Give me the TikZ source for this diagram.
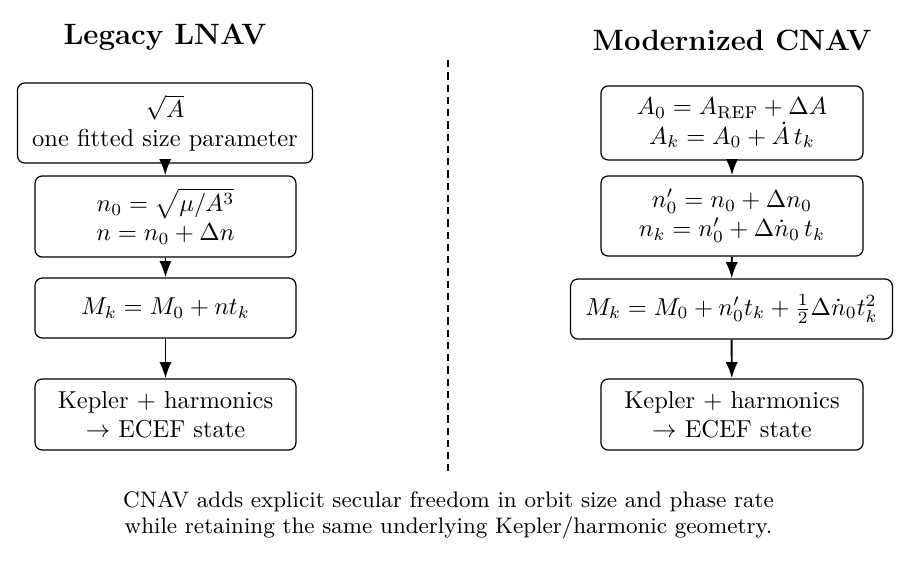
\documentclass[tikz,border=0pt]{standalone}
\usepackage{amsmath}
\usetikzlibrary{arrows.meta}
\begin{document}
\begin{tikzpicture}[x=0.40816pt,y=-0.40816pt,
  stagebox/.style={draw,line width=0.5pt,rounded corners=3pt,align=center,inner xsep=6pt,inner ysep=3pt,minimum width=106.5pt},
  flow/.style={-{Latex},thick},
  coltitle/.style={font=\large\bfseries}]
\useasboundingbox (0,0) rectangle (912,568);
\node[coltitle] (tl) at (165,37) {Legacy LNAV};
\node[coltitle] (tr) at (732,40) {Modernized CNAV};
% left
\node[stagebox,minimum width=120pt,minimum height=32.7pt] (l1) at (165,123) {$\sqrt{A}$\\one fitted size parameter};
\node[stagebox,minimum height=33.1pt] (l2) at (165.5,216.5) {$n_0=\sqrt{\mu/A^3}$\\$n=n_0+\Delta n$};
\node[stagebox,minimum height=24.5pt] (l3) at (165.5,308) {$M_k=M_0+nt_k$};
\node[stagebox,minimum height=29pt] (l4) at (165.5,414.5) {Kepler + harmonics\\$\rightarrow$ ECEF state};
% right
\node[stagebox,minimum width=107pt,minimum height=30.2pt] (r1) at (732,123) {$A_0=A_{\mathrm{REF}}+\Delta A$\\$A_k=A_0+\dot{A}\,t_k$};
\node[stagebox,minimum width=107pt,minimum height=32.7pt] (r2) at (732,216) {$n_0'=n_0+\Delta n_0$\\$n_k=n_0'+\Delta\dot{n}_0\,t_k$};
\node[stagebox,minimum width=131pt,minimum height=24.5pt] (r3) at (731.5,309) {$M_k=M_0+n_0't_k+\frac{1}{2}\Delta\dot{n}_0t_k^2$};
\node[stagebox,minimum width=107pt,minimum height=29pt] (r4) at (732,414.5) {Kepler + harmonics\\$\rightarrow$ ECEF state};
\draw[flow] (l1) -- (l2);
\draw[flow] (l2) -- (l3);
\draw[flow] (l3) -- (l4);
\draw[flow] (r1) -- (r2);
\draw[flow] (r2) -- (r3);
\draw[flow] (r3) -- (r4);
\coordinate (dtop) at (448,60);
\coordinate (dbot) at (448,471);
\draw[line width=0.5pt,dash pattern=on 3pt off 2pt] (dtop) -- (dbot);
\node[font=\fontsize{9.17}{10.6}\selectfont,align=center] (cap) at (448.5,515) {CNAV adds explicit secular freedom in orbit size and phase rate\\while retaining the same underlying Kepler/harmonic geometry.};
\end{tikzpicture}
\end{document}
